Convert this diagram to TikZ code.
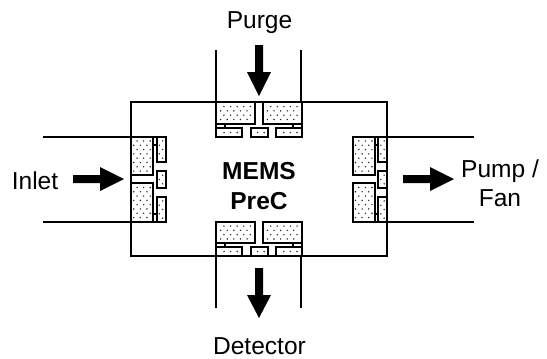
\documentclass[tikz,border=0pt]{standalone}
\usepackage{fontspec}
\setmainfont{Liberation Sans}
\tikzset{
  x=0.75pt,y=-0.75pt,
  wall/.style={line width=1.25pt,black},
  block/.style={draw=black,line width=1.5pt},
  speck/.style={fill=black!85,draw=none},
  arrowshape/.style={fill=black,draw=none},
  lbl/.style={font=\fontsize{18.4}{21.75}\selectfont,text=black,anchor=base,inner sep=0pt,align=center},
  blbl/.style={lbl,font=\fontsize{18.4}{22.5}\selectfont\bfseries}
}
% a dotted block: staggered rows of dots centred in the rectangle
\newcommand{\dotblock}[4]{%
  \fill[white] (#1,#2) rectangle (#3,#4);
  \pgfmathtruncatemacro{\rowsn}{floor((#4-#2-2)/4.3)}%
  \pgfmathtruncatemacro{\colsn}{floor((#3-#1-1)/6.6)}%
  \pgfmathsetmacro{\ystart}{#2+((#4-#2)-(\rowsn-1)*4.3)/2}%
  \pgfmathsetmacro{\xstart}{#1+((#3-#1)-(\colsn-1)*6.6-3.3)/2}%
  \foreach \i in {1,...,\rowsn}{%
    \foreach \j in {1,...,\colsn}{%
      \pgfmathsetmacro{\dx}{\xstart+(\j-1)*6.6+3.3*mod(\i,2)}%
      \pgfmathsetmacro{\dy}{\ystart+(\i-1)*4.3}%
      \fill[speck] (\dx,\dy) circle[radius=0.6pt];
    }%
  }%
  \draw[block] (#1,#2) rectangle (#3,#4);
}
\begin{document}
\begin{tikzpicture}
\useasboundingbox (0,0) rectangle (547,358);
% housing and ports
\draw[wall] (131,102) rectangle (387,256);
\draw[wall] (216,50) -- (216,102) (301,50) -- (301,102);
\draw[wall] (216,256) -- (216,308) (301,256) -- (301,308);
\draw[wall] (43,137) -- (131,137) (43,222) -- (131,222);
\draw[wall] (387,137) -- (474,137) (387,222) -- (474,222);
% top valve
\dotblock{216}{102}{255}{124}
\dotblock{263}{102}{301.5}{124}
\dotblock{216}{128}{242}{137}
\dotblock{250.5}{128}{268}{137}
\dotblock{276}{128}{301.5}{137}
\draw[block] (216,124) rectangle (225,128) (292.5,124) rectangle (301.5,128);
% bottom valve
\dotblock{216}{222}{255}{243}
\dotblock{263}{222}{301.5}{243}
\dotblock{216}{247}{242}{256}
\dotblock{250.5}{247}{268}{256}
\dotblock{276}{247}{301.5}{256}
\draw[block] (216,243) rectangle (225,247) (292.5,243) rectangle (301.5,247);
% left valve
\dotblock{131}{137}{153}{175}
\dotblock{131}{183}{153}{222}
\dotblock{156.5}{137}{165.5}{162}
\dotblock{156.5}{171}{165.5}{188}
\dotblock{156.5}{197}{165.5}{222}
\draw[block] (153,137) rectangle (156.5,145) (153,213.5) rectangle (156.5,222);
% right valve
\dotblock{353}{137}{374.5}{175}
\dotblock{353}{183}{374.5}{222}
\dotblock{378}{137}{387}{162}
\dotblock{378}{171}{387}{188}
\dotblock{378}{197}{387}{222}
\draw[block] (374.5,137) rectangle (378,145) (374.5,213.5) rectangle (378,222);
% wall lines crossing the valves
\draw[wall] (131,102) -- (131,256) (387,102) -- (387,256);
% arrows
\fill[arrowshape] (255,45) -- (263,45) -- (263,72) -- (271,72) -- (259,96) -- (247,72) -- (255,72) -- cycle;
\fill[arrowshape] (255,268) -- (263,268) -- (263,295) -- (271,295) -- (259,318) -- (247,295) -- (255,295) -- cycle;
\fill[arrowshape] (73,175) -- (100,175) -- (100,167) -- (124,179) -- (100,191) -- (100,183) -- (73,183) -- cycle;
\fill[arrowshape] (403,175) -- (430,175) -- (430,167) -- (454,179) -- (430,191) -- (430,183) -- (403,183) -- cycle;
% labels
\node[lbl] (purge) at (259.5,28) {Purge};
\node[lbl] (inlet) at (35,189) {Inlet};
\node[lbl] (pump) at (500,206) {Pump /\\Fan};
\node[lbl] (det) at (259.5,354) {Detector};
\node[blbl] (mems) at (259,209) {MEMS\\PreC};
\end{tikzpicture}
\end{document}
